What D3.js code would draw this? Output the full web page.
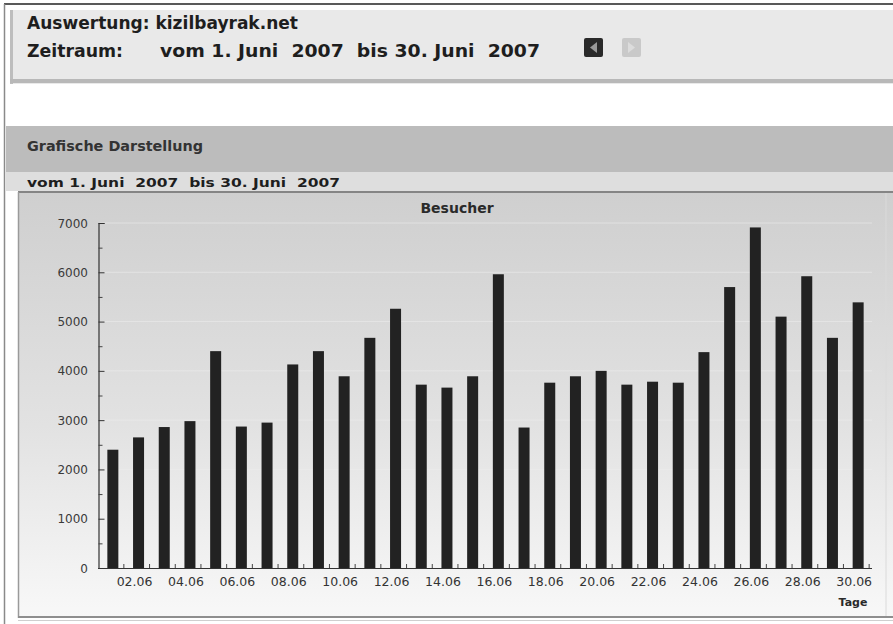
<!DOCTYPE html>
<html><head><meta charset="utf-8">
<script src="https://cdn.jsdelivr.net/npm/d3@7"></script>
<style>
html,body{margin:0;padding:0;background:#fff;overflow:hidden;}
text{white-space:pre;}
</style></head>
<body>
<svg id="c" width="893" height="624"></svg>
<script>
// ---- data ----
const days = ["01.06","02.06","03.06","04.06","05.06","06.06","07.06","08.06","09.06","10.06",
              "11.06","12.06","13.06","14.06","15.06","16.06","17.06","18.06","19.06","20.06",
              "21.06","22.06","23.06","24.06","25.06","26.06","27.06","28.06","29.06","30.06"];
const besucher = [2400,2650,2860,2980,4400,2870,2950,4130,4400,3890,
                  4670,5260,3720,3660,3890,5960,2850,3760,3890,4000,
                  3720,3780,3760,4380,5700,6910,5100,5920,4670,5390];
const yTicks = [0,1000,2000,3000,4000,5000,6000,7000];
const minorTicks = [500,1500,2500,3500,4500,5500,6500];
const titleText = "Auswertung: kizilbayrak.net";
const periodLabel = "Zeitraum:";
const periodText = "vom 1. Juni  2007  bis 30. Juni  2007";
const sectionTitle = "Grafische Darstellung";
const chartTitle = "Besucher";
const xAxisTitle = "Tage";

const svg = d3.select("#c");
const F = "DejaVu Sans, Verdana, sans-serif";

// ---- page chrome ----
const defs = svg.append("defs");
const g1 = defs.append("linearGradient").attr("id","panelGrad").attr("x1",0).attr("y1",0).attr("x2",0).attr("y2",1);
g1.append("stop").attr("offset","0%").attr("stop-color","#cfcfcf");
g1.append("stop").attr("offset","55%").attr("stop-color","#e2e2e2");
g1.append("stop").attr("offset","100%").attr("stop-color","#f8f8f8");

// outer borders
svg.append("line").attr("x1",4).attr("x2",893).attr("y1",4).attr("y2",4).attr("stroke","#222").attr("stroke-width",1.5);
svg.append("line").attr("x1",4.5).attr("x2",4.5).attr("y1",4).attr("y2",624).attr("stroke","#8a8a8a").attr("stroke-width",1.5);

// header box
svg.append("rect").attr("x",10).attr("y",10).attr("width",883).attr("height",74).attr("fill","#e9e9e9");
svg.append("rect").attr("x",10).attr("y",10).attr("width",3).attr("height",74).attr("fill","#bdbdbd");
svg.append("rect").attr("x",10).attr("y",79).attr("width",883).attr("height",4).attr("fill","#b8b8b8");

svg.append("text").attr("x",27).attr("y",29).attr("font-family",F).attr("font-weight","bold")
  .attr("font-size",17).attr("fill","#1e1e1e").attr("textLength",271).attr("lengthAdjust","spacingAndGlyphs").text(titleText);
svg.append("text").attr("x",27).attr("y",57).attr("font-family",F).attr("font-weight","bold")
  .attr("font-size",17).attr("fill","#1e1e1e").attr("textLength",96).attr("lengthAdjust","spacingAndGlyphs").text(periodLabel);
svg.append("text").attr("x",160).attr("y",57).attr("font-family",F).attr("font-weight","bold")
  .attr("font-size",17).attr("fill","#1e1e1e").attr("textLength",380).attr("lengthAdjust","spacingAndGlyphs").text(periodText);

// nav icons
svg.append("rect").attr("x",584).attr("y",38).attr("width",19).attr("height",19).attr("rx",2).attr("fill","#2a2a2a");
svg.append("path").attr("d","M597,42 L590,47.5 L597,53 Z").attr("fill","#9a9a9a");
svg.append("rect").attr("x",622).attr("y",38).attr("width",19).attr("height",19).attr("rx",2).attr("fill","#c9c9c9");
svg.append("path").attr("d","M628,42 L635,47.5 L628,53 Z").attr("fill","#dcdcdc");

// section band
svg.append("rect").attr("x",6).attr("y",126).attr("width",887).attr("height",46).attr("fill","#bcbcbc");
svg.append("text").attr("x",27).attr("y",151).attr("font-family",F).attr("font-weight","bold")
  .attr("font-size",13.5).attr("fill","#333").attr("textLength",176).attr("lengthAdjust","spacingAndGlyphs").text(sectionTitle);
svg.append("rect").attr("x",6).attr("y",172).attr("width",887).attr("height",19).attr("fill","#dedede");
svg.append("text").attr("x",27).attr("y",187).attr("font-family",F).attr("font-weight","bold")
  .attr("font-size",12.5).attr("fill","#1e1e1e").attr("textLength",313).attr("lengthAdjust","spacingAndGlyphs").text(periodText);

// chart panel
svg.append("rect").attr("x",18).attr("y",192).attr("width",875).attr("height",425).attr("fill","url(#panelGrad)");
svg.append("line").attr("x1",18).attr("x2",893).attr("y1",192).attr("y2",192).attr("stroke","#858585").attr("stroke-width",2);
svg.append("line").attr("x1",18.5).attr("x2",18.5).attr("y1",192).attr("y2",618).attr("stroke","#9a9a9a").attr("stroke-width",1.5);
svg.append("line").attr("x1",886).attr("x2",886).attr("y1",193).attr("y2",616).attr("stroke","#dadada").attr("stroke-width",1);
svg.append("line").attr("x1",18).attr("x2",893).attr("y1",617).attr("y2",617).attr("stroke","#8f8f8f").attr("stroke-width",2);
svg.append("line").attr("x1",18).attr("x2",893).attr("y1",620.5).attr("y2",620.5).attr("stroke","#cfcfcf").attr("stroke-width",1);

// ---- scales ----
const y = d3.scaleLinear().domain([0,7000]).range([568,223]);
const x = d3.scaleBand().domain(days).range([100,871]).padding(0);
const step = x.step();
const barW = 11;

// faint grid
svg.append("g").selectAll("line").data(yTicks.slice(1)).join("line")
  .attr("x1",100).attr("x2",872).attr("y1",d=>y(d)).attr("y2",d=>y(d))
  .attr("stroke","#ededed").attr("stroke-width",1).attr("opacity",0.6);

// title
svg.append("text").attr("x",457).attr("y",213).attr("text-anchor","middle").attr("font-family",F)
  .attr("font-weight","bold").attr("font-size",14).attr("fill","#2a2a2a").text(chartTitle);

// bars
svg.append("g").selectAll("rect").data(days).join("rect")
  .attr("x",(d)=>x(d)+step/2-barW/2)
  .attr("width",barW)
  .attr("y",(d,i)=>y(besucher[i]))
  .attr("height",(d,i)=>y(0)-y(besucher[i]))
  .attr("fill","#222");

// y axis
const yAxis = d3.axisRight(y).tickValues(yTicks).tickSize(6).tickFormat("");
const ya = svg.append("g").attr("transform","translate(98.5,0)").call(yAxis);
ya.select(".domain").attr("stroke","#333").attr("stroke-width",1.2);
ya.selectAll(".tick line").attr("stroke","#333");
const yMinor = d3.axisRight(y).tickValues(minorTicks).tickSize(4).tickFormat("");
const ym = svg.append("g").attr("transform","translate(98.5,0)").call(yMinor);
ym.select(".domain").remove();
ym.selectAll(".tick line").attr("stroke","#444");
svg.append("g").selectAll("text").data(yTicks).join("text")
  .attr("x",88).attr("y",d=>y(d)+4.5).attr("text-anchor","end")
  .attr("font-family",F).attr("font-size",12).attr("fill","#3a3a3a").text(d=>d);

// x axis
svg.append("line").attr("x1",98).attr("x2",872).attr("y1",568.5).attr("y2",568.5).attr("stroke","#333").attr("stroke-width",1.2);
svg.append("g").selectAll("line").data(days).join("line")
  .attr("x1",d=>x(d)+step/2+11).attr("x2",d=>x(d)+step/2+11)
  .attr("y1",568).attr("y2",564).attr("stroke","#444");
svg.append("g").selectAll("text").data(days.filter((d,i)=>i%2===1)).join("text")
  .attr("x",d=>x(d)+step/2-4).attr("y",586).attr("text-anchor","middle")
  .attr("font-family",F).attr("font-size",12.5).attr("fill","#333").text(d=>d);
svg.append("text").attr("x",853).attr("y",606).attr("text-anchor","middle").attr("font-family",F)
  .attr("font-weight","bold").attr("font-size",11).attr("fill","#2a2a2a").text(xAxisTitle);
</script>
</body></html>
